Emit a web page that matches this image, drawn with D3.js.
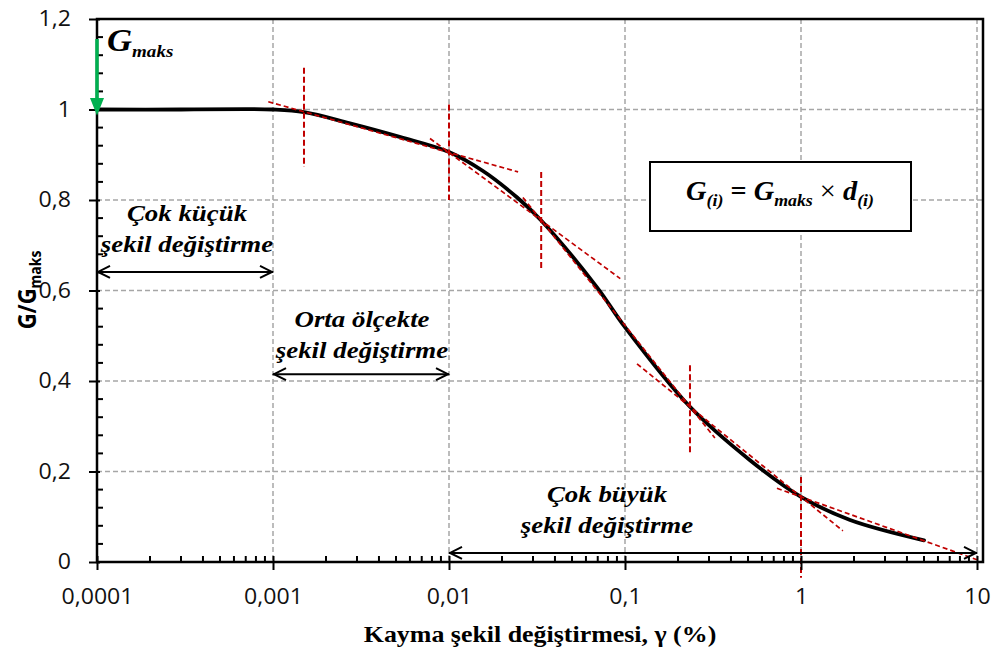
<!DOCTYPE html>
<html>
<head>
<meta charset="utf-8">
<script src="https://cdn.jsdelivr.net/npm/d3@7"></script>
<style>
body { margin: 0; background: #fff; }
</style>
</head>
<body>
<script>
// G/Gmaks curve
var strain = [0.0001, 0.0003, 0.0007, 0.001, 0.0015, 0.0027, 0.0053, 0.01, 0.0156, 0.0243, 0.033, 0.069, 0.1, 0.234, 0.513, 1, 1.9, 5];
var gRatio = [1, 1, 1.001, 1, 0.994, 0.97, 0.939, 0.906, 0.864, 0.806, 0.757, 0.608, 0.519, 0.343, 0.225, 0.144, 0.093, 0.048];

// points d(i) used for the secant approximation
var pointStrain = [0.0015, 0.01, 0.0334, 0.234, 1, 10];
var pointG = [0.995, 0.905, 0.755, 0.343, 0.144, 0.005];
var secantFrom = [0.00094, 0.0078, 0.0263, 0.117, 0.73];
var secantTo = [0.0247, 0.094, 0.324, 1.73, 10];
var markTop = [1.092, 1.011, 0.862, 0.435, 0.188];
var markBottom = [0.873, 0.80, 0.645, 0.236, -0.035];

// axes
var xTicks = [0.0001, 0.001, 0.01, 0.1, 1, 10];
var xTickLabels = ["0,0001", "0,001", "0,01", "0,1", "1", "10"];
var yTicks = [0, 0.2, 0.4, 0.6, 0.8, 1, 1.2];
var yTickLabels = ["0", "0,2", "0,4", "0,6", "0,8", "1", "1,2"];

// strain ranges
var rangeFrom = [0.0001, 0.001, 0.01];
var rangeTo = [0.001, 0.01, 10];
var rangeLevel = [0.641, 0.415, 0.02];
var rangeLine1 = ["Çok küçük", "Orta ölçekte", "Çok büyük"];
var rangeLine2 = ["şekil değiştirme", "şekil değiştirme", "şekil değiştirme"];

var W = 992, H = 655;
var stretch = 1.1;
var serif = "'Liberation Serif', 'Times New Roman', serif";
var sans = "'Open Sans', sans-serif";
var red = "#c00000";

var x = d3.scaleLog().domain([0.0001, 10]).range([97, 977]);
var y = d3.scaleLinear().domain([0, 1.2]).range([562, 19]);
var frameRight = 983;

var svg = d3.select("body").append("svg")
    .attr("width", W)
    .attr("height", H);

//gridlines
svg.append("g").selectAll("line")
   .data(xTicks.slice(1))
   .enter().append("line")
   .attr("x1", function(d){ return x(d); })
   .attr("x2", function(d){ return x(d); })
   .attr("y1", y(1.2)).attr("y2", y(0))
   .attr("stroke", "#a6a6a6").attr("stroke-width", 1.5)
   .attr("stroke-dasharray", "5,3");

svg.append("g").selectAll("line")
   .data(yTicks.slice(1, -1))
   .enter().append("line")
   .attr("x1", x(0.0001)).attr("x2", frameRight)
   .attr("y1", function(d){ return y(d); })
   .attr("y2", function(d){ return y(d); })
   .attr("stroke", "#a6a6a6").attr("stroke-width", 1.5)
   .attr("stroke-dasharray", "5,3");

//main curve
var line = d3.line()
    .x(function(d){ return x(d[0]); })
    .y(function(d){ return y(d[1]); })
    .curve(d3.curveCatmullRom.alpha(0.5));

svg.append("path")
   .datum(d3.zip(strain, gRatio))
   .attr("d", line)
   .attr("fill", "none")
   .attr("stroke", "#000")
   .attr("stroke-width", 3.8)
   .attr("stroke-linecap", "round");

//secant lines between consecutive points, extended on both sides
function secantValue(i, s){
    var t = (Math.log10(s) - Math.log10(pointStrain[i])) /
            (Math.log10(pointStrain[i + 1]) - Math.log10(pointStrain[i]));
    return pointG[i] + t * (pointG[i + 1] - pointG[i]);
}

svg.append("g").selectAll("line")
   .data(d3.range(secantFrom.length))
   .enter().append("line")
   .attr("x1", function(i){ return x(secantFrom[i]); })
   .attr("y1", function(i){ return y(secantValue(i, secantFrom[i])); })
   .attr("x2", function(i){ return x(secantTo[i]); })
   .attr("y2", function(i){ return y(secantValue(i, secantTo[i])); })
   .attr("stroke", red).attr("stroke-width", 1.7)
   .attr("stroke-dasharray", "5,3");

svg.append("g").selectAll("line")
   .data(d3.range(markTop.length))
   .enter().append("line")
   .attr("x1", function(i){ return x(pointStrain[i]); })
   .attr("x2", function(i){ return x(pointStrain[i]); })
   .attr("y1", function(i){ return y(markTop[i]); })
   .attr("y2", function(i){ return y(markBottom[i]); })
   .attr("stroke", red).attr("stroke-width", 2)
   .attr("stroke-dasharray", "6,3");

//frame and axis lines
svg.append("path")
   .attr("d", "M" + x(0.0001) + "," + y(0) + "V" + y(1.2) + "H" + frameRight + "V" + y(0) + "Z")
   .attr("fill", "none")
   .attr("stroke", "#000")
   .attr("stroke-width", 2.5);

//y axis
var yAxis = svg.append("g")
   .attr("transform", "translate(100,0)")
   .call(d3.axisLeft(y).tickValues(yTicks).tickSize(11).tickPadding(18)
           .tickFormat(function(d, i){ return yTickLabels[i]; }));
yAxis.select(".domain").remove();
yAxis.selectAll("line").attr("stroke", "#000").attr("stroke-width", 2);
yAxis.selectAll("text")
     .attr("font-family", sans).attr("font-size", 21).attr("fill", "#111")
     .each(function(){
         var t = d3.select(this);
         var tx = +t.attr("x");
         t.attr("x", 0).attr("transform", "translate(" + tx + ",0) scale(" + stretch + ",1)");
     });

svg.append("g").selectAll("line")
   .data(d3.range(0.04, 1.2, 0.04).filter(function(d){ return Math.abs(d / 0.2 - Math.round(d / 0.2)) > 0.01; }))
   .enter().append("line")
   .attr("x1", x(0.0001)).attr("x2", x(0.0001) + 6)
   .attr("y1", function(d){ return y(d); })
   .attr("y2", function(d){ return y(d); })
   .attr("stroke", "#000").attr("stroke-width", 2);

//x axis
var xAxis = svg.append("g")
   .attr("transform", "translate(0," + (y(0) - 6) + ")")
   .call(d3.axisBottom(x).tickValues(xTicks).tickSize(14).tickPadding(19)
           .tickFormat(function(d, i){ return xTickLabels[i]; }));
xAxis.select(".domain").remove();
xAxis.selectAll("line").attr("stroke", "#000").attr("stroke-width", 2);
xAxis.selectAll("text")
     .attr("font-family", sans).attr("font-size", 21).attr("fill", "#111")
     .attr("transform", "scale(" + stretch + ",1)");

svg.append("g").selectAll("line")
   .data(x.ticks().filter(function(d){ return xTicks.indexOf(d) < 0 && d < 10; }))
   .enter().append("line")
   .attr("x1", function(d){ return x(d); })
   .attr("x2", function(d){ return x(d); })
   .attr("y1", y(0)).attr("y2", y(0) - 6)
   .attr("stroke", "#000").attr("stroke-width", 2);

//text helper, the source text is drawn slightly wide
function richText(px, py, parts, anchor, sx){
    var t = svg.append("text")
       .attr("transform", "translate(" + px + "," + py + ") scale(" + (sx || 1.12) + ",1)")
       .attr("text-anchor", anchor || "middle")
       .attr("font-family", serif)
       .attr("font-weight", "bold");
    parts.forEach(function(p){
        t.append("tspan")
         .attr("font-size", p.size)
         .attr("font-style", p.italic === false ? "normal" : "italic")
         .attr("font-weight", p.weight || "bold")
         .attr("dy", p.dy || 0)
         .text(p.text);
    });
    return t;
}

//range arrows
function doubleArrow(x1, x2, yy){
    var g = svg.append("g").attr("stroke", "#000").attr("stroke-width", 2).attr("fill", "none");
    g.append("line").attr("x1", x1).attr("x2", x2).attr("y1", yy).attr("y2", yy);
    g.append("path").attr("d", "M" + (x1 + 13) + "," + (yy - 6) + "L" + (x1 + 1) + "," + yy + "L" + (x1 + 13) + "," + (yy + 6));
    g.append("path").attr("d", "M" + (x2 - 13) + "," + (yy - 6) + "L" + (x2 - 1) + "," + yy + "L" + (x2 - 13) + "," + (yy + 6));
}

var labelX = [187, 362, 607];
var labelY = [221, 327, 502];
rangeFrom.forEach(function(d, i){
    doubleArrow(x(rangeFrom[i]), x(rangeTo[i]), y(rangeLevel[i]));
    richText(labelX[i], labelY[i], [{text: rangeLine1[i], size: 24}]);
    richText(labelX[i], labelY[i] + 31, [{text: rangeLine2[i], size: 24}]);
});

//G maks marker
svg.append("line")
   .attr("x1", x(0.0001)).attr("x2", x(0.0001))
   .attr("y1", 39).attr("y2", 100)
   .attr("stroke", "#00b050").attr("stroke-width", 3.5);
svg.append("path")
   .attr("d", "M" + (x(0.0001) - 7) + ",98L" + (x(0.0001) + 7) + ",98L" + x(0.0001) + "," + (y(1) + 6) + "Z")
   .attr("fill", "#00b050");
richText(107, 51, [{text: "G", size: 31}, {text: "maks", size: 17, dy: 6}], "start");

//formula box
svg.append("rect")
   .attr("x", 650).attr("y", 162).attr("width", 261).attr("height", 69)
   .attr("fill", "#fff").attr("stroke", "#000").attr("stroke-width", 2);
richText(780, 200, [
    {text: "G", size: 27},
    {text: "(i)", size: 17, dy: 6},
    {text: " = ", size: 27, italic: false, dy: -6},
    {text: "G", size: 27},
    {text: "maks", size: 17, dy: 6},
    {text: " × ", size: 27, italic: false, weight: "normal", dy: -6},
    {text: "d", size: 27},
    {text: "(i)", size: 17, dy: 6}
], "middle", 1.05);

//axis titles
richText(540, 642, [{text: "Kayma şekil değiştirmesi, γ (%)", size: 24, italic: false}], "middle", 1.08);

svg.append("text")
   .attr("transform", "translate(36,290) scale(1.15,1) rotate(-90)")
   .attr("text-anchor", "middle")
   .attr("font-family", sans)
   .attr("font-weight", "bold")
   .call(function(t){
       t.append("tspan").attr("font-size", 22).text("G/G");
       t.append("tspan").attr("font-size", 14).attr("dy", 4).text("maks");
   });
</script>
</body>
</html>
